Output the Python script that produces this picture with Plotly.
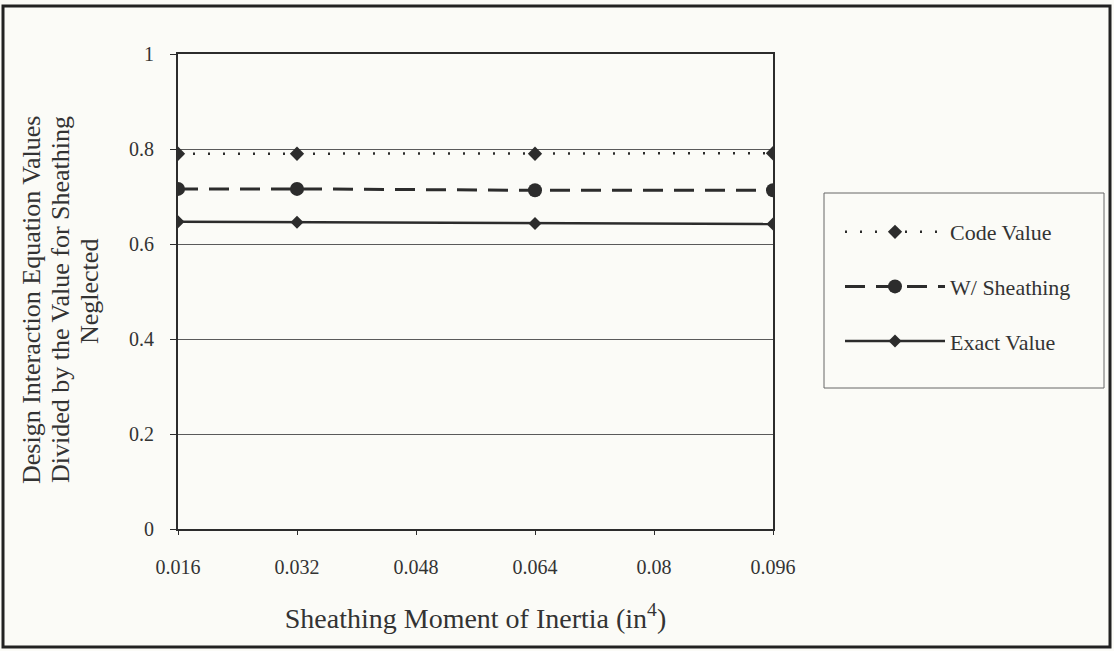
import plotly.graph_objects as go

x_vals = [0.016, 0.032, 0.064, 0.096]
code_value = [0.790, 0.790, 0.790, 0.791]
with_sheathing = [0.716, 0.716, 0.713, 0.713]
exact_value = [0.647, 0.646, 0.643, 0.642]
x_ticks = [0.016, 0.032, 0.048, 0.064, 0.08, 0.096]
x_tick_labels = ["0.016", "0.032", "0.048", "0.064", "0.08", "0.096"]
y_ticks = [0, 0.2, 0.4, 0.6, 0.8, 1]
y_tick_labels = ["0", "0.2", "0.4", "0.6", "0.8", "1"]
y_title_lines = ["Design Interaction Equation Values",
                 "Divided by the Value for Sheathing",
                 "Neglected"]
x_title = "Sheathing Moment of Inertia (in<sup>4</sup>)"

INK = "#2c2c2c"
BG = "#fbfbf7"
FONT = "Liberation Serif, Times New Roman, serif"
W, H = 1114, 651
L, R, T, B = 178, 773, 54, 529

fig = go.Figure()
fig.add_trace(go.Scatter(
    x=x_vals, y=code_value, name="Code Value", mode="lines+markers",
    line=dict(color=INK, width=2.5, dash="2px,13px"),
    marker=dict(symbol="diamond", size=11, color=INK),
    legendgroup="a"))
fig.add_trace(go.Scatter(
    x=x_vals, y=with_sheathing, name="W/ Sheathing", mode="lines+markers",
    line=dict(color=INK, width=3, dash="20px,11px"),
    marker=dict(symbol="circle", size=14, color=INK),
    legendgroup="b"))
fig.add_trace(go.Scatter(
    x=x_vals, y=exact_value, name="Exact Value", mode="lines+markers",
    line=dict(color=INK, width=2.5),
    marker=dict(symbol="diamond", size=10, color=INK),
    legendgroup="c"))

pw = R - L
ph = B - T
def px_x(p):
    return (p - L) / pw
def px_y(p):
    return (B - p) / ph

annotations = []
for line_text, cx, cy in zip(y_title_lines, [31, 60, 89], [300, 300, 292]):
    annotations.append(dict(
        text=line_text, textangle=-90, showarrow=False,
        xref="paper", yref="paper", x=px_x(cx), y=px_y(cy),
        xanchor="center", yanchor="middle",
        font=dict(family=FONT, size=26, color="#333333")))

fig.update_layout(
    width=W, height=H,
    margin=dict(l=L, r=W - R, t=T, b=H - B),
    paper_bgcolor=BG, plot_bgcolor=BG,
    font=dict(family=FONT, color="#333333", size=20),
    showlegend=True,
    legend=dict(
        x=px_x(840), y=px_y(211), xanchor="left", yanchor="top",
        borderwidth=0, bgcolor="rgba(0,0,0,0)",
        font=dict(size=22, family=FONT),
        itemwidth=100, tracegroupgap=23,
        traceorder="grouped",
    ),
    xaxis=dict(
        range=[0.016, 0.096], tickvals=x_ticks, ticktext=x_tick_labels,
        showgrid=False, zeroline=False,
        showline=True, linecolor=INK, linewidth=2, mirror=True,
        ticks="outside", ticklen=4, tickcolor=INK,
        ticklabelstandoff=15,
        tickfont=dict(size=20),
        title=dict(text=x_title, font=dict(size=28), standoff=31),
    ),
    yaxis=dict(
        range=[0, 1], tickvals=y_ticks, ticktext=y_tick_labels,
        showgrid=True, gridcolor="#5a5a5a", gridwidth=1,
        zeroline=False,
        showline=True, linecolor=INK, linewidth=2, mirror=True,
        ticks="outside", ticklen=6, tickcolor=INK,
        ticklabelstandoff=12,
        tickfont=dict(size=20),
    ),
    annotations=annotations,
    shapes=[
        dict(type="rect", xref="paper", yref="paper",
             x0=px_x(824), x1=px_x(1104), y0=px_y(388), y1=px_y(193),
             line=dict(color="#666666", width=1), layer="below"),
        dict(type="rect", xref="paper", yref="paper",
             x0=px_x(3), x1=px_x(1110), y0=px_y(647), y1=px_y(6),
             line=dict(color="#222222", width=3), layer="above"),
    ],
)

fig.write_html("out.html",
               config={"displayModeBar": False},
               post_script="document.body.style.margin='0';document.body.style.overflow='hidden';")
